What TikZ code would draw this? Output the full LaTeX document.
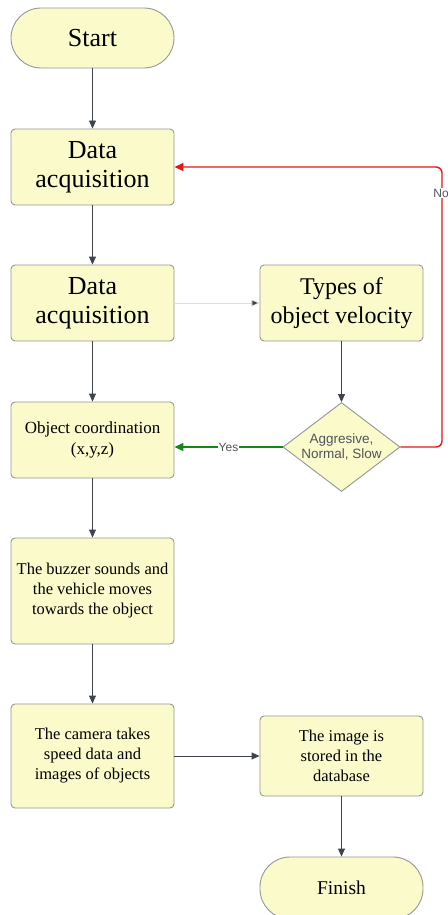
\documentclass[tikz,border=0pt]{standalone}
\usepackage{fontspec}
\setmainfont{Liberation Serif}
\newfontfamily\labelsans{Liberation Sans}
\usetikzlibrary{shapes.geometric,arrows.meta}

\definecolor{boxfill}{RGB}{250,250,203}
\definecolor{boxline}{RGB}{150,150,150}
\definecolor{flowline}{RGB}{62,67,78}
\definecolor{noline}{RGB}{228,24,24}
\definecolor{yesline}{RGB}{22,135,22}
\definecolor{labelgray}{RGB}{80,84,92}
\definecolor{faintline}{RGB}{222,222,222}

\tikzset{
  procbox/.style={draw=boxline, fill=boxfill, line width=0.9pt, rounded corners=4pt,
    minimum width=163pt, align=center, inner sep=2pt, text=black},
  terminal/.style={procbox, rounded corners=30pt},
  decision/.style={diamond, draw=boxline, fill=boxfill, line width=0.9pt,
    aspect=1.32, inner sep=0pt, align=center, text=labelgray,
    font=\labelsans\fontsize{13.5}{15}\selectfont},
  bigtext/.style={font=\fontsize{26}{29}\selectfont},
  midtext/.style={font=\fontsize{24}{29}\selectfont},
  smalltext/.style={font=\fontsize{16.5}{20}\selectfont},
  flow/.style={draw=flowline, line width=0.9pt, -{Triangle[length=8pt,width=7pt]}},
  branch/.style={line width=1.4pt, -{Triangle[length=9pt,width=8pt,fill=#1]}, draw=#1},
  edgelabel/.style={fill=white, inner sep=1pt, text=labelgray,
    font=\labelsans\fontsize{12}{14}\selectfont},
}

\begin{document}
\begin{tikzpicture}[x=1pt,y=-1pt]
  \useasboundingbox (0,0) rectangle (447,915);
  \begin{scope}
    \clip (0,0) rectangle (447,915);

    % left column
    \node[terminal, bigtext, minimum height=60pt] (start) at (92.5,38) {Start};
    \node[procbox, bigtext, minimum height=76pt] (acq1) at (92.5,167) {Data\\acquisition};
    \node[procbox, bigtext, minimum height=76pt] (acq2) at (92.5,303) {Data\\acquisition};
    \node[procbox, font=\fontsize{17}{21}\selectfont, minimum height=76pt] (coord) at (92.5,440)
      {Object coordination\\(x,y,z)};
    \node[procbox, smalltext, minimum height=106pt] (buzz) at (92.5,591)
      {The buzzer sounds and\\the vehicle moves\\towards the object};
    \node[procbox, smalltext, minimum height=104pt] (cam) at (92.5,756)
      {The camera takes\\speed data and\\images of objects};

    % right column
    \node[procbox, midtext, minimum height=76pt] (types) at (341.5,303)
      {Types of\\object velocity};
    \node[decision, minimum width=117pt, minimum height=89pt] (dec) at (341.5,447)
      {Aggresive,\\Normal, Slow};
    \node[procbox, smalltext, minimum height=80pt] (store) at (341.5,756)
      {The image is\\stored in the\\database};
    \node[terminal, font=\fontsize{19.5}{22}\selectfont, minimum height=62pt] (finish) at (341.5,888)
      {Finish};

    \coordinate (noturn) at (442,167);

    % connectors
    \draw[flow] (start) -- (acq1);
    \draw[flow] (acq1) -- (acq2);
    \draw[flow] (acq2) -- (coord);
    \draw[flow] (coord) -- (buzz);
    \draw[flow] (buzz) -- (cam);
    \draw[flow] (cam) -- (store);
    \draw[flow] (store) -- (finish);
    \draw[flow] (types) -- (dec);
    \draw[flow, draw=faintline, line width=0.7pt, -{Triangle[length=8pt,width=7pt,fill=flowline]}]
      (acq2) -- (types);
    \draw[branch=yesline]
      (dec.west) -- node[edgelabel] {Yes} (dec.west -| coord.east);
    \draw[branch=noline, rounded corners=6pt]
      (dec.east) -| (noturn) -- (acq1.east);
    \node[edgelabel] (nolabel) at (441,193) {No};
  \end{scope}
\end{tikzpicture}
\end{document}
